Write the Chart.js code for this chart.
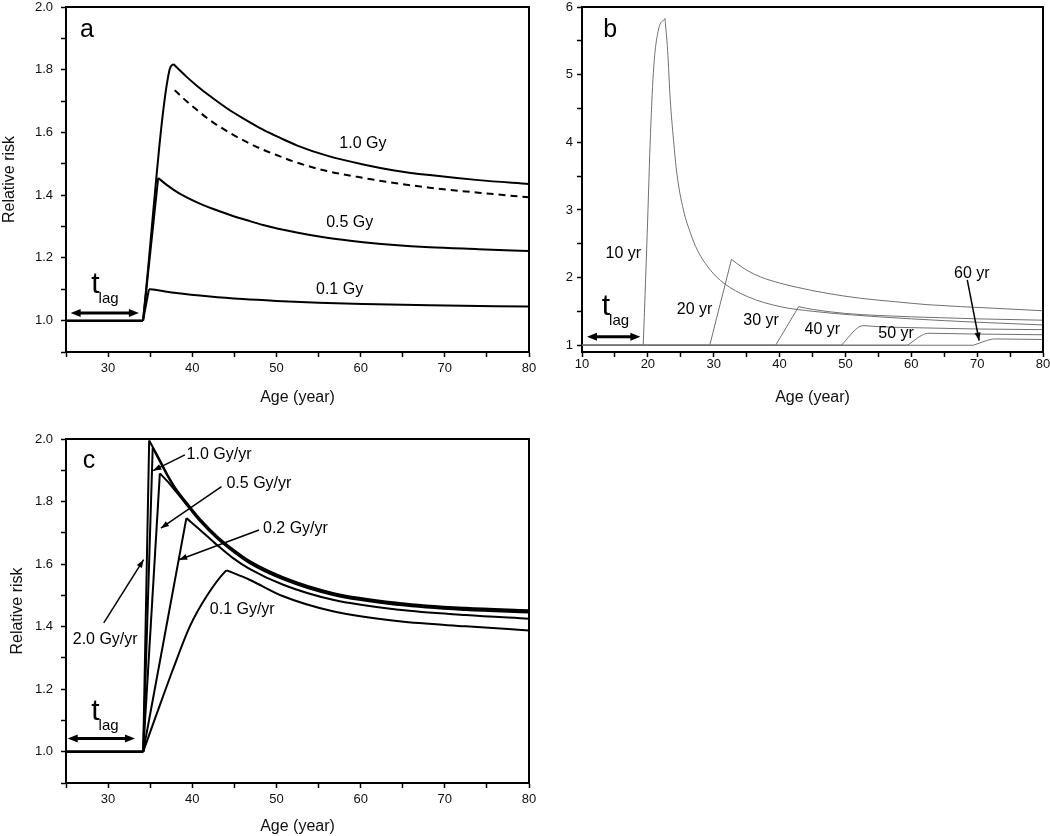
<!DOCTYPE html>
<html><head><meta charset="utf-8">
<script src="https://cdn.jsdelivr.net/npm/chart.js@4.4.1/dist/chart.umd.min.js"></script>
<style>
html,body{margin:0;padding:0;background:#fff;}
#wrap{position:relative;width:1050px;height:836px;overflow:hidden;background:#fff;}
canvas{position:absolute;display:block;}
</style></head><body>
<div id="wrap">
<canvas id="ca" width="540" height="420" style="left:0;top:0"></canvas>
<canvas id="cb" width="510" height="420" style="left:540px;top:0"></canvas>
<canvas id="cc" width="540" height="416" style="left:0;top:420px"></canvas>
</div>
<script>
// ---------- Panel a: single acute dose ----------
const a_age_10 = [25, 34.15, 37.3, 37.75, 39.3, 40.5, 42.1, 44.5, 46.5, 48.4, 50.5, 52.4, 56, 60.3, 64, 68.2, 74, 80];
const a_rr_10  = [1, 1, 1.80, 1.818, 1.778, 1.75, 1.716, 1.67, 1.638, 1.609, 1.582, 1.559, 1.526, 1.498, 1.479, 1.464, 1.448, 1.436];
const a_age_dash = [37.9, 39.3, 40.5, 42.1, 44.5, 46.5, 48.4, 50.5, 52.4, 56, 60.3, 64, 68.2, 74, 80];
const a_rr_dash  = [1.735, 1.70, 1.673, 1.639, 1.598, 1.569, 1.545, 1.523, 1.504, 1.477, 1.455, 1.439, 1.424, 1.408, 1.393];
const a_age_05 = [25, 34.15, 35.95, 37, 38.5, 40.5, 42.5, 44.5, 46.5, 48.4, 52.4, 56, 60.3, 64, 68.2, 74, 80];
const a_rr_05  = [1, 1, 1.455, 1.432, 1.405, 1.378, 1.356, 1.337, 1.32, 1.305, 1.281, 1.264, 1.25, 1.241, 1.234, 1.228, 1.222];
const a_age_01 = [25, 34.15, 34.85, 35.3, 38.1, 42.1, 46, 50, 55, 60.3, 68.2, 80];
const a_rr_01  = [1, 1, 1.10, 1.099, 1.088, 1.077, 1.069, 1.063, 1.057, 1.053, 1.049, 1.045];

// ---------- Panel b: exposure age ----------
const b_age_10 = [10, 19.3, 19.9, 20.4, 20.9, 21.6, 22.6, 23.0, 23.4, 23.9, 24.4, 25.4, 26.5, 27.5, 29.5, 31.5, 35.1, 40.1, 45.2, 50.8, 60, 70, 80];
const b_rr_10  = [1, 1, 2.65, 4.13, 5.12, 5.66, 5.83, 5.36, 4.63, 4.03, 3.54, 3.0, 2.65, 2.41, 2.11, 1.92, 1.72, 1.57, 1.50, 1.45, 1.39, 1.34, 1.30];
const b_age_20 = [10, 29.4, 32.7, 33.5, 35, 37.1, 40, 42.2, 47.2, 52.3, 57.4, 62.4, 72.5, 80];
const b_rr_20  = [1, 1, 2.27, 2.21, 2.11, 2.01, 1.92, 1.866, 1.768, 1.694, 1.645, 1.60, 1.547, 1.51];
const b_age_30 = [10, 39.4, 42.9, 45, 50, 55, 60, 70, 80];
const b_rr_30  = [1, 1, 1.57, 1.53, 1.47, 1.44, 1.42, 1.39, 1.37];
const b_age_40 = [10, 49.4, 52.2, 52.8, 55, 60, 70, 80];
const b_rr_40  = [1, 1, 1.28, 1.29, 1.275, 1.26, 1.24, 1.23];
const b_age_50 = [10, 59.4, 62.2, 62.7, 70, 80];
const b_rr_50  = [1, 1, 1.172, 1.177, 1.165, 1.155];
const b_age_60 = [10, 69.4, 72.3, 72.8, 80];
const b_rr_60  = [1, 1, 1.09, 1.093, 1.085];

// ---------- Panel c: dose rate ----------
const c_age_20 = [25, 34.17, 34.88, 36, 37, 38, 39.7, 41, 42.9, 44.8, 46.8, 50.8, 56.7, 64.6, 72.5, 80];
const c_rr_20  = [1, 1, 1.995, 1.94, 1.888, 1.843, 1.784, 1.742, 1.69, 1.648, 1.61, 1.558, 1.508, 1.476, 1.46, 1.452];
const c_age_10 = [25, 34.17, 35.3, 36, 37, 38, 39.7, 41, 42.9, 44.8, 46.8, 50.8, 56.7, 64.6, 72.5, 80];
const c_rr_10  = [1, 1, 1.972, 1.936, 1.885, 1.840, 1.781, 1.739, 1.687, 1.645, 1.607, 1.555, 1.505, 1.473, 1.457, 1.449];
const c_age_05 = [25, 34.17, 36.15, 37, 38, 39.7, 41, 42.9, 44.8, 46.8, 50.8, 56.7, 64.6, 72.5, 80];
const c_rr_05  = [1, 1, 1.89, 1.866, 1.834, 1.777, 1.735, 1.683, 1.641, 1.603, 1.551, 1.501, 1.469, 1.453, 1.445];
const c_age_02 = [25, 34.17, 39.3, 40.9, 42.9, 44.8, 46.8, 50.8, 56.7, 64.6, 72.5, 80];
const c_rr_02  = [1, 1, 1.747, 1.71, 1.662, 1.62, 1.585, 1.534, 1.486, 1.454, 1.437, 1.425];
const c_age_01 = [25, 34.17, 35.76, 37.7, 39.7, 41.7, 43.9, 44.1, 46.8, 50.8, 56.7, 64.6, 72.5, 80];
const c_rr_01  = [1, 1, 1.12, 1.263, 1.40, 1.497, 1.576, 1.58, 1.55, 1.497, 1.449, 1.417, 1.401, 1.388];

// ---------- Ticks and axis titles ----------
const ac_xTicks  = [25, 30, 35, 40, 45, 50, 55, 60, 65, 70, 75, 80];
const ac_xLabels = ['', '30', '', '40', '', '50', '', '60', '', '70', '', '80'];
const ac_yTicks  = [0.9, 1.0, 1.1, 1.2, 1.3, 1.4, 1.5, 1.6, 1.7, 1.8, 1.9, 2.0];
const ac_yLabels = ['', '1.0', '', '1.2', '', '1.4', '', '1.6', '', '1.8', '', '2.0'];
const b_xTicks   = [10, 15, 20, 25, 30, 35, 40, 45, 50, 55, 60, 65, 70, 75, 80];
const b_xLabels  = ['10', '', '20', '', '30', '', '40', '', '50', '', '60', '', '70', '', '80'];
const b_yTicks   = [1, 1.5, 2, 2.5, 3, 3.5, 4, 4.5, 5, 5.5, 6];
const b_yLabels  = ['1', '', '2', '', '3', '', '4', '', '5', '', '6'];
const xTitle = 'Age (year)';
const yTitle = 'Relative risk';

const FF = "'Liberation Sans', Arial, Helvetica, sans-serif";

function P(ages, rrs){ return ages.map((a,i)=>({x:a,y:rrs[i]})); }
// split a curve into baseline, rise and decay so the corners stay sharp
function curveSets(ages, rrs, style){
  let s = 0; while (s+1 < rrs.length && rrs[s+1] === rrs[0]) s++;
  let p = 0; rrs.forEach((v,i)=>{ if (v > rrs[p]) p = i; });
  const parts = [[0,s],[s,p],[p,rrs.length-1]];
  return parts.filter(([i,j])=>j>i).map(([i,j],k)=>Object.assign({
    data: P(ages.slice(i,j+1), rrs.slice(i,j+1)),
    pointRadius:0, pointHoverRadius:0, fill:false, tension:0,
    cubicInterpolationMode: k===0 ? 'default' : 'monotone'
  }, style));
}

const annot = {
  id:'annot',
  afterDatasetsDraw(chart, args, opts){
    const ctx = chart.ctx, xs = chart.scales.x, ys = chart.scales.y;
    const X = v => xs.getPixelForValue(v), Y = v => ys.getPixelForValue(v);
    const ca = chart.chartArea;
    ctx.save();
    ctx.strokeStyle = '#000'; ctx.lineWidth = 2;
    ctx.beginPath(); ctx.moveTo(ca.left, ca.top); ctx.lineTo(ca.right, ca.top); ctx.lineTo(ca.right, ca.bottom); ctx.stroke();
    function head(x1,y1,x2,y2,len,hw){
      const a = Math.atan2(y2-y1, x2-x1);
      ctx.beginPath();
      ctx.moveTo(x2,y2);
      ctx.lineTo(x2 - len*Math.cos(a) + hw*Math.sin(a), y2 - len*Math.sin(a) - hw*Math.cos(a));
      ctx.lineTo(x2 - len*Math.cos(a) - hw*Math.sin(a), y2 - len*Math.sin(a) + hw*Math.cos(a));
      ctx.closePath(); ctx.fill();
    }
    (opts.items||[]).forEach(it=>{
      ctx.fillStyle = '#000'; ctx.strokeStyle = '#000';
      if (it.t === 'text'){
        ctx.font = (it.size||16) + 'px ' + FF;
        ctx.textAlign = it.align || 'center';
        ctx.textBaseline = it.base || 'middle';
        ctx.fillText(it.s, X(it.x), Y(it.y));
      } else if (it.t === 'arrow'){
        const x1=X(it.x1), y1=Y(it.y1), x2=X(it.x2), y2=Y(it.y2);
        ctx.lineWidth = it.w || 1.5;
        ctx.beginPath(); ctx.moveTo(x1,y1); ctx.lineTo(x2,y2); ctx.stroke();
        head(x1,y1,x2,y2,8,3);
      } else if (it.t === 'tlag'){
        ctx.textAlign = 'left'; ctx.textBaseline = 'alphabetic';
        ctx.font = '30px ' + FF;
        const tx = X(it.x), ty = Y(it.y);
        ctx.fillText('t', tx, ty);
        const w = ctx.measureText('t').width;
        ctx.font = '15px ' + FF;
        ctx.fillText('lag', tx + w - 1, ty + 10);
        const x1 = X(it.ax1), x2 = X(it.ax2), ay = Y(it.ay);
        ctx.lineWidth = 3;
        ctx.beginPath(); ctx.moveTo(x1+5, ay); ctx.lineTo(x2-5, ay); ctx.stroke();
        head(x2, ay, x1, ay, 10, 4);
        head(x1, ay, x2, ay, 10, 4);
      }
    });
    ctx.restore();
  }
};

function axes(o){
  return {
    x:{ type:'linear', min:o.xmin, max:o.xmax,
      afterBuildTicks(s){ s.ticks = o.xt.map(v=>({value:v})); },
      afterFit(s){ s.height = o.xh; s.paddingLeft = 0; s.paddingRight = 0; },
      ticks:{ autoSkip:false, maxRotation:0, minRotation:0, padding:o.xpad, color:'#111',
        font:{family:FF, size:13, lineHeight:1},
        callback:(v,i) => o.xl[i] },
      grid:{ drawOnChartArea:false, drawTicks:true, tickLength:5, tickWidth:1.5, tickColor:'#000' },
      border:{ display:true, color:'#000', width:2 },
      title:{ display:true, text:xTitle, color:'#111', font:{family:FF, size:16, lineHeight:1.2}, padding:{top:0, bottom:o.xtpad} }
    },
    y:{ type:'linear', min:o.ymin, max:o.ymax,
      afterBuildTicks(s){ s.ticks = o.yt.map(v=>({value:v})); },
      afterFit(s){ s.width = o.yw; s.paddingTop = 0; s.paddingBottom = 0; },
      ticks:{ autoSkip:false, padding:o.ypad, color:'#111',
        font:{family:FF, size:13, lineHeight:1},
        callback:(v,i) => o.yl[i] },
      grid:{ drawOnChartArea:false, drawTicks:true, tickLength:5, tickWidth:1.5, tickColor:'#000' },
      border:{ display:true, color:'#000', width:2 },
      title:{ display:!!o.ytitle, text:yTitle, color:'#111', font:{family:FF, size:16, lineHeight:1.2}, padding:{top:o.ytpad||0, bottom:0} }
    }
  };
}

function make(id, datasets, scales, pad, items){
  return new Chart(document.getElementById(id), {
    type:'line',
    data:{ datasets },
    options:{
      responsive:false, animation:false, events:[],
      layout:{ padding:pad },
      plugins:{ legend:{display:false}, tooltip:{enabled:false}, annot:{items} },
      scales
    },
    plugins:[annot]
  });
}

const solidA = {borderColor:'#000', borderWidth:2};
make('ca', [
  ...curveSets(a_age_01, a_rr_01, solidA),
  ...curveSets(a_age_05, a_rr_05, solidA),
  ...curveSets(a_age_10, a_rr_10, solidA),
  {data:P(a_age_dash, a_rr_dash), borderColor:'#000', borderWidth:2, borderDash:[7,5], pointRadius:0, fill:false, tension:0, cubicInterpolationMode:'monotone'}
], axes({xmin:25, xmax:80, xt:ac_xTicks, xl:ac_xLabels, xh:68, xpad:5, xtpad:13,
         ymin:0.9, ymax:2.0, yt:ac_yTicks, yl:ac_yLabels, yw:66, ypad:8, ytitle:true, ytpad:0}),
 {left:0, top:7, right:11, bottom:0},
 [
  {t:'text', x:26.66, y:1.904, s:'a', size:25, align:'left', base:'alphabetic'},
  {t:'text', x:60.27, y:1.566, s:'1.0 Gy', size:16},
  {t:'text', x:58.7, y:1.314, s:'0.5 Gy', size:16},
  {t:'text', x:57.5, y:1.098, s:'0.1 Gy', size:16},
  {t:'tlag', x:28.0, y:1.087, ax1:25.55, ax2:33.66, ay:1.024}
 ]);

const thinB = {borderColor:'#707070', borderWidth:1};
make('cb', [
  ...curveSets(b_age_60, b_rr_60, thinB),
  ...curveSets(b_age_50, b_rr_50, thinB),
  ...curveSets(b_age_40, b_rr_40, thinB),
  ...curveSets(b_age_30, b_rr_30, thinB),
  ...curveSets(b_age_20, b_rr_20, thinB),
  ...curveSets(b_age_10, b_rr_10, thinB)
], axes({xmin:10, xmax:80, xt:b_xTicks, xl:b_xLabels, xh:68, xpad:1, xtpad:13,
         ymin:0.9, ymax:6, yt:b_yTicks, yl:b_yLabels, yw:42, ypad:4, ytitle:false}),
 {left:0, top:7, right:7, bottom:0},
 [
  {t:'text', x:13.24, y:5.561, s:'b', size:25, align:'left', base:'alphabetic'},
  {t:'text', x:16.28, y:2.36, s:'10 yr', size:16},
  {t:'text', x:27.1, y:1.525, s:'20 yr', size:16},
  {t:'text', x:37.2, y:1.36, s:'30 yr', size:16},
  {t:'text', x:46.5, y:1.226, s:'40 yr', size:16},
  {t:'text', x:57.7, y:1.165, s:'50 yr', size:16},
  {t:'text', x:69.2, y:2.06, s:'60 yr', size:16},
  {t:'arrow', x1:68.5, y1:1.965, x2:70.3, y2:1.068, w:1.5},
  {t:'tlag', x:13.0, y:1.448, ax1:10.76, ax2:18.86, ay:1.127}
 ]);

const solidC = {borderColor:'#000', borderWidth:2};
make('cc', [
  ...curveSets(c_age_01, c_rr_01, solidC),
  ...curveSets(c_age_02, c_rr_02, solidC),
  ...curveSets(c_age_05, c_rr_05, solidC),
  ...curveSets(c_age_10, c_rr_10, solidC),
  ...curveSets(c_age_20, c_rr_20, solidC)
], axes({xmin:25, xmax:80, xt:ac_xTicks, xl:ac_xLabels, xh:53, xpad:5, xtpad:0,
         ymin:0.9, ymax:2.0, yt:ac_yTicks, yl:ac_yLabels, yw:66, ypad:8, ytitle:true, ytpad:8}),
 {left:0, top:19, right:11, bottom:0},
 [
  {t:'text', x:27.0, y:1.907, s:'c', size:25, align:'left', base:'alphabetic'},
  {t:'text', x:39.32, y:1.949, s:'1.0 Gy/yr', size:16, align:'left'},
  {t:'arrow', x1:39.12, y1:1.949, x2:35.36, y2:1.899},
  {t:'text', x:44.06, y:1.859, s:'0.5 Gy/yr', size:16, align:'left'},
  {t:'arrow', x1:43.47, y1:1.848, x2:36.27, y2:1.715},
  {t:'text', x:48.4, y:1.715, s:'0.2 Gy/yr', size:16, align:'left'},
  {t:'arrow', x1:47.93, y1:1.709, x2:38.44, y2:1.614},
  {t:'text', x:42.08, y:1.454, s:'0.1 Gy/yr', size:16, align:'left'},
  {t:'text', x:25.8, y:1.358, s:'2.0 Gy/yr', size:16, align:'left'},
  {t:'arrow', x1:29.49, y1:1.412, x2:34.22, y2:1.614},
  {t:'tlag', x:28.0, y:1.103, ax1:25.2, ax2:33.19, ay:1.042}
 ]);
</script>
</body></html>
